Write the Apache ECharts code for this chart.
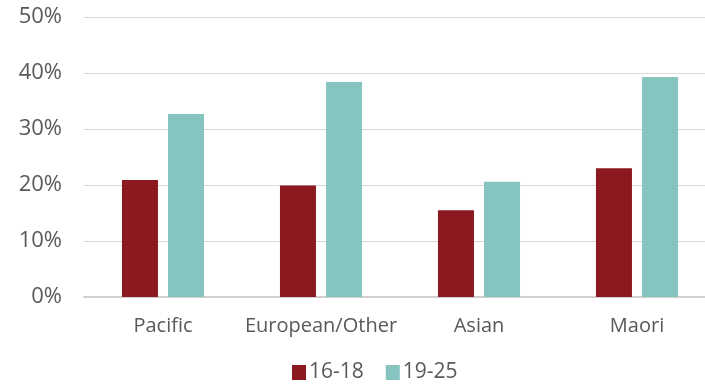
<!DOCTYPE html>
<html>
<head>
<meta charset="utf-8">
<script src="https://cdn.jsdelivr.net/npm/echarts@6/dist/echarts.min.js"></script>
<style>
  html, body { margin: 0; padding: 0; background: #fff; overflow: hidden; }
  #chart { width: 716px; height: 388px; }
</style>
</head>
<body>
<div id="chart"></div>
<script>
// Ethnic groups along the x axis
const categories = ['Pacific', 'European/Other', 'Asian', 'Maori'];
// Share (%) for each age band
const age16to18 = [20.9, 19.9, 15.5, 23.0];
const age19to25 = [32.7, 38.4, 20.6, 39.3];
const yTicks = { min: 0, max: 50, interval: 10 };

const font = '"Open Sans", Roboto, sans-serif';
const chart = echarts.init(document.getElementById('chart'), null, { renderer: 'canvas' });

chart.setOption({
  animation: false,
  textStyle: { fontFamily: font },
  grid: { left: 84, right: 0, top: 17, bottom: 91, containLabel: false },
  legend: {
    data: ['16-18', '19-25'],
    bottom: 0,
    left: 287,
    itemWidth: 14,
    itemHeight: 15,
    itemGap: 22,
    icon: 'rect',
    textStyle: { fontSize: 21, color: '#595959', fontFamily: font, padding: [0, 0, 0, -2] }
  },
  xAxis: {
    type: 'category',
    data: categories,
    axisLine: { show: true, lineStyle: { color: '#d0d0d0', width: 2 } },
    axisTick: { show: false },
    axisLabel: { interval: 0, fontSize: 20, color: '#595959', margin: 19, fontFamily: font }
  },
  yAxis: {
    type: 'value',
    min: yTicks.min,
    max: yTicks.max,
    interval: yTicks.interval,
    axisLine: { show: false },
    axisTick: { show: false },
    splitLine: { lineStyle: { color: '#d9d9d9', width: 1 } },
    axisLabel: { fontSize: 22, color: '#595959', margin: 22, formatter: '{value}%', fontFamily: font }
  },
  series: [
    {
      name: '16-18',
      type: 'bar',
      data: age16to18,
      barWidth: 36,
      barGap: '28%',
      itemStyle: { color: '#8b191f' }
    },
    {
      name: '19-25',
      type: 'bar',
      data: age19to25,
      barWidth: 36,
      itemStyle: { color: '#86c4c0' }
    }
  ]
});
</script>
</body>
</html>
